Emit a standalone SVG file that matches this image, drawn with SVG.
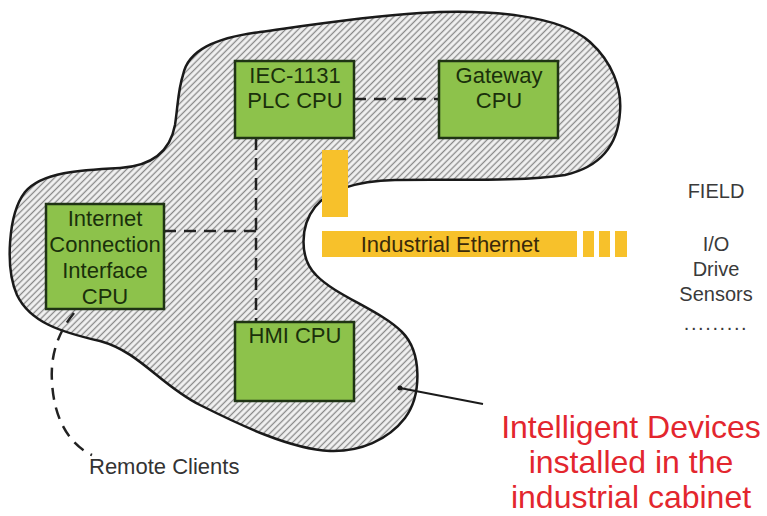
<svg xmlns="http://www.w3.org/2000/svg" width="767" height="516" viewBox="0 0 767 516">
  <defs>
    <pattern id="hatch" width="4.5" height="4.5" patternUnits="userSpaceOnUse" patternTransform="rotate(45)">
      <rect width="4.5" height="4.5" fill="#f1f1f1"/>
      <line x1="2.25" y1="0" x2="2.25" y2="4.5" stroke="#888" stroke-width="1.3"/>
    </pattern>
    <style>
      text { font-family: "Liberation Sans", Arial, sans-serif; }
      .cpu rect { fill: #8dc24b; stroke: #1f3314; stroke-width: 2.5; }
      .cpu text { font-size: 22px; fill: #1a300b; text-anchor: middle; }
      .bus { fill: #f7c12b; }
      .link { fill: none; stroke: #222; stroke-width: 2.5; stroke-dasharray: 12 8; }
      .field { font-size: 20px; fill: #3a3a3a; text-anchor: middle; }
      .note { font-size: 32px; fill: #e3262e; text-anchor: middle; }
    </style>
  </defs>

  <rect width="767" height="516" fill="#ffffff"/>

  <!-- cabinet outline -->
  <g id="cabinet">
    <path d="M183,75 C188,50 215,38 260,32 C310,25 360,17 420,13 C490,9 560,15 590,42 C612,62 622,88 620,112 C618,145 600,167 565,175 C520,182 450,179 395,180 C360,181 330,188 315,207 C300,226 299,258 316,275 C336,296 380,310 402,332 C422,352 422,395 405,418 C388,440 360,452 330,451 C290,449 240,425 200,405 C160,385 140,352 100,341 C60,332 30,322 17,295 C5,268 8,214 25,192 C42,172 80,170 120,168 C152,166 170,152 175,125 C178,105 178,90 183,75 Z" fill="url(#hatch)" stroke="#1a1a1a" stroke-width="2.5"/>
  </g>

  <!-- fieldbus -->
  <g id="industrial-ethernet">
    <rect class="bus" x="322" y="150" width="26" height="67"/>
    <rect class="bus" x="322" y="231" width="255" height="26"/>
    <rect class="bus" x="583" y="231" width="11" height="26"/>
    <rect class="bus" x="599" y="231" width="11" height="26"/>
    <rect class="bus" x="615" y="231" width="12" height="26"/>
    <text x="450" y="252" font-size="22" fill="#3a2a0a" text-anchor="middle">Industrial Ethernet</text>
  </g>

  <!-- connectors -->
  <g id="connectors">
    <path class="link" d="M354,99 H439"/>
    <path class="link" d="M256,138 V322"/>
    <path class="link" d="M164,231 H256"/>
    <path class="link" d="M74,313 C60,330 50,352 52,382 C54,420 70,445 92,455" stroke-dasharray="14 9"/>
    <line x1="400" y1="388" x2="483" y2="404" stroke="#1a1a1a" stroke-width="2"/>
    <circle cx="400" cy="388" r="2.5" fill="#1a1a1a"/>
  </g>

  <g id="plc-cpu" class="cpu">
    <rect x="235" y="61" width="119" height="77"/>
    <text x="295" y="83">IEC-1131</text>
    <text x="295" y="108">PLC CPU</text>
  </g>

  <g id="gateway-cpu" class="cpu">
    <rect x="439" y="61" width="119" height="77"/>
    <text x="499" y="83">Gateway</text>
    <text x="499" y="108">CPU</text>
  </g>

  <g id="internet-cpu" class="cpu">
    <rect x="46" y="204" width="118" height="105"/>
    <text x="105" y="226">Internet</text>
    <text x="105" y="252">Connection</text>
    <text x="105" y="278">Interface</text>
    <text x="105" y="304">CPU</text>
  </g>

  <g id="hmi-cpu" class="cpu">
    <rect x="235" y="322" width="119" height="79"/>
    <text x="295" y="343">HMI CPU</text>
  </g>

  <g id="remote-clients">
    <text x="89" y="474" font-size="22" fill="#333">Remote Clients</text>
  </g>

  <g id="field">
    <text class="field" x="716" y="198">FIELD</text>
    <text class="field" x="716" y="251">I/O</text>
    <text class="field" x="716" y="276">Drive</text>
    <text class="field" x="716" y="301">Sensors</text>
    <text class="field" x="716" y="330" font-size="13" letter-spacing="1.6" fill="#666">.........</text>
  </g>

  <g id="cabinet-label">
    <text class="note" x="631" y="438">Intelligent Devices</text>
    <text class="note" x="631" y="473">installed in the</text>
    <text class="note" x="631" y="508">industrial cabinet</text>
  </g>
</svg>
